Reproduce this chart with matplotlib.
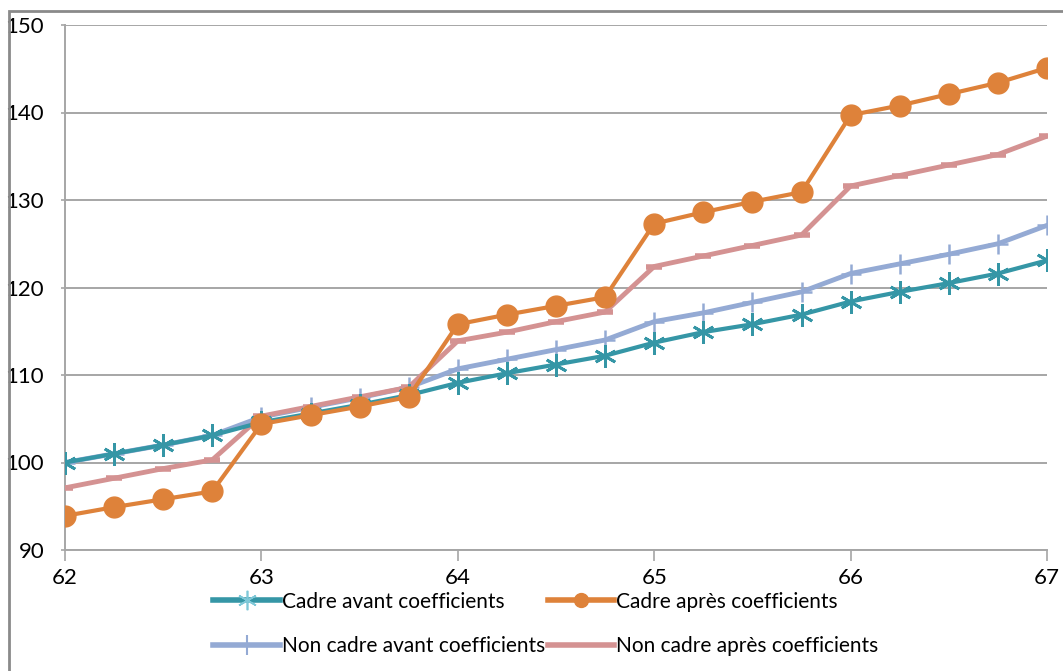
import matplotlib.pyplot as plt
from matplotlib.lines import Line2D
from matplotlib.patches import Rectangle

plt.rcParams["font.family"] = ["Lato", "DejaVu Sans"]

ages = [62, 62.25, 62.5, 62.75, 63, 63.25, 63.5, 63.75, 64, 64.25, 64.5,
        64.75, 65, 65.25, 65.5, 65.75, 66, 66.25, 66.5, 66.75, 67]

cadre_avant = [100, 101, 102, 103.1, 104.6, 105.6, 106.6, 107.7, 109.1, 110.2, 111.2,
               112.2, 113.7, 114.9, 115.8, 116.9, 118.4, 119.5, 120.5, 121.6, 123.1]
cadre_apres = [93.9, 94.9, 95.8, 96.7, 104.4, 105.4, 106.4, 107.5, 115.8, 116.9, 117.9,
               118.9, 127.3, 128.6, 129.8, 130.9, 139.7, 140.8, 142.1, 143.4, 145.1]
non_cadre_avant = [100, 101, 102, 103.1, 105.2, 106.3, 107.4, 108.6, 110.7, 111.8, 112.9,
                   114.0, 116.1, 117.1, 118.3, 119.5, 121.6, 122.7, 123.8, 125.0, 127.1]
non_cadre_apres = [97.1, 98.2, 99.3, 100.3, 105.3, 106.4, 107.5, 108.6, 113.9, 114.9, 116.1,
                   117.2, 122.4, 123.6, 124.8, 126.0, 131.6, 132.8, 134.0, 135.2, 137.3]

labels = ["Cadre avant coefficients", "Cadre après coefficients",
          "Non cadre avant coefficients", "Non cadre après coefficients"]

teal = "#3596A6"
orange = "#DE823A"
blue = "#94AAD4"
pink = "#D49292"
asterisk = (6, 2, 0)

W, H = 1063, 671
fig = plt.figure(figsize=(W / 100, H / 100), dpi=100)
fig.patches.append(Rectangle((9 / W, -0.1), 1.2, 1.1 - 11 / H, transform=fig.transFigure,
                             fill=False, edgecolor="#8A8A8A", linewidth=2))

ax = fig.add_axes([65 / W, 1 - 550 / H, (1047 - 65) / W, (550 - 25) / H])

ax.plot(ages, non_cadre_avant, color=blue, lw=3.5, marker="+", ms=15, mew=1.8, zorder=3)
ax.plot(ages, non_cadre_apres, color=pink, lw=3.5, marker="_", ms=11, mew=4, zorder=3)
ax.plot(ages, cadre_avant, color=teal, lw=3, marker=asterisk, ms=16, mew=2, zorder=4)
ax.plot(ages, cadre_apres, color=orange, lw=3, marker="o", ms=15, zorder=5)

ax.set_xlim(62, 67)
ax.set_ylim(90, 150)
ax.set_xticks(range(62, 68))
ax.set_yticks(range(90, 151, 10))
ax.grid(axis="y", color="#A6A6A6", lw=1.4)
ax.set_axisbelow(True)
for side in ["top", "right"]:
    ax.spines[side].set_visible(False)
for side in ["left", "bottom"]:
    ax.spines[side].set_color("#A6A6A6")
    ax.spines[side].set_linewidth(1.4)
ax.tick_params(axis="x", length=8, width=1.2, color="#A6A6A6", pad=5, labelsize=16)
ax.tick_params(axis="y", length=3, width=1.2, color="#A6A6A6", pad=12, labelsize=16)

# fig.legend fills columns first, so order the entries column by column
h_cadre_avant = Line2D([], [], color=teal, lw=4, marker=asterisk, ms=14, mew=1.2, mec="#7FC8D8")
h_cadre_apres = Line2D([], [], color=orange, lw=4, marker="o", ms=10)
h_non_avant = Line2D([], [], color=blue, lw=4, marker="+", ms=14, mew=1.5)
h_non_apres = Line2D([], [], color=pink, lw=4)
fig.legend([h_cadre_avant, h_non_avant, h_cadre_apres, h_non_apres],
           [labels[0], labels[2], labels[1], labels[3]],
           ncol=2, loc="center", bbox_to_anchor=(546 / W, 1 - 624 / H),
           frameon=False, fontsize=15, handlelength=3.2, handletextpad=0.1,
           columnspacing=0.1, labelspacing=1.2)

fig.savefig("out.png", dpi=100)
